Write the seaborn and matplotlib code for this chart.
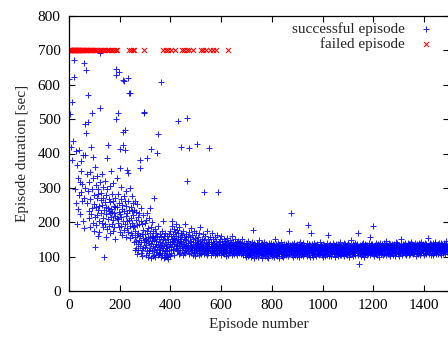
import pandas as pd
import seaborn as sns
import matplotlib
matplotlib.use('Agg')
import matplotlib.pyplot as plt

# episodes that hit the 700 s timeout
failed_episodes = [2, 3, 5, 6, 8, 9, 11, 12, 14, 15, 17, 19, 20, 22, 24, 25, 27, 29, 31, 33,
                   35, 36, 38, 40, 43, 45, 47, 50, 52, 55, 57, 60, 63, 66, 69, 72, 75, 78, 81,
                   85, 88, 92, 96, 100, 104, 108, 112, 117, 121, 126, 131, 137, 142, 148, 153,
                   159, 165, 171, 178, 184, 190, 237, 244, 251, 258, 294, 372, 381, 390, 404,
                   417, 446, 455, 466, 474, 488, 519, 530, 541, 556, 567, 578, 627]
timeout = 700

# durations of the successful episodes, in episode order
dur_early = [616, 515, 420, 549, 380, 436, 672, 623, 298, 255, 407, 368, 195, 240, 330, 410, 279, 318, 225, 287,
             379, 350, 262, 310, 204, 395, 272, 182,
             663, 395, 300, 485, 460, 644, 340, 255, 491, 290, 570, 232, 318, 212, 268, 345, 187, 418, 225, 296,
             518, 241, 389, 198, 330, 176, 280, 254, 129, 362, 215, 308, 245, 192, 336, 270, 221, 160, 298, 235,
             282, 205, 172, 248,
             693, 533, 318, 265, 228, 286, 198, 340, 250, 212, 302, 185, 272, 236, 98, 260, 320, 195, 244, 278,
             156, 225, 386, 298, 180, 242, 424, 210, 268, 232, 190, 305, 226, 258, 168, 214, 350, 240, 196, 282,
             230, 175, 262, 206, 315, 248, 185, 228, 270, 152, 218, 244, 499, 628, 646, 212, 330]

dur_mid = [245, 198, 282, 210, 517, 230, 637, 186, 256, 358, 414, 224, 172, 268, 215, 302, 190, 238, 164, 250,
           426, 613, 203, 463, 276, 178, 612, 232, 262, 195, 410, 468, 248, 158, 218, 290, 184, 352, 226, 205,
           342, 262, 172, 620, 208, 236, 576, 575, 188, 300, 154, 245, 212, 170, 276, 198, 232, 162, 255, 220,
           185, 236, 142, 190, 120, 175, 262, 158, 208, 126, 230, 146, 192, 108, 252, 164, 138, 216, 170, 118,
           195, 226, 148, 358, 160, 130, 381, 205, 142, 110, 242, 166, 120, 196, 102, 178, 155, 124, 220, 142,
           518, 520, 166, 128, 198, 148, 105, 208, 150, 134, 386, 175, 115, 228, 146, 98, 182, 156, 120, 212,
           140, 112, 168, 242, 125, 154, 96, 185, 413, 138, 160, 116, 200, 146, 102, 175, 130, 158, 118, 272,
           148, 106, 180, 128, 156, 100, 138, 170, 114, 145, 402, 122, 160, 104, 457, 135, 188, 110, 152, 128,
           108, 166, 120, 142, 112, 607, 132, 156, 98, 175, 118, 140, 104, 205, 126, 150, 112, 96, 160, 135,
           116, 148, 100, 170, 124, 105, 138, 160, 98, 130, 115, 152, 92, 142, 120, 108, 166, 128, 102, 136]

dur_late = [142, 175, 128, 160, 110, 188, 150, 136, 205, 122, 166, 145, 118, 180, 138, 155, 104, 172, 148, 130,
            196, 125, 160, 142, 115, 178, 135, 152, 494, 120, 168, 140, 108, 185, 132, 158, 126, 145, 112, 170,
            138, 420, 152, 118, 164, 130, 105, 176, 142, 124, 158, 136, 114, 195, 128, 150, 110, 166, 134, 120,
            148, 502, 126, 321, 160, 115, 140, 130, 172, 108, 415, 146, 122, 156, 134, 112, 182, 128, 144, 118,
            162, 125, 106, 150, 138, 120, 176, 132, 114, 155, 128, 142, 102, 168, 124, 136, 116, 148, 428, 130,
            110, 158, 122, 140, 134, 104, 170, 126, 118, 145, 132, 112, 186, 124, 138, 108, 152, 128, 119, 142,
            116, 165, 130, 289, 122, 108, 148, 135, 118, 160, 126, 112, 140, 132, 104, 175, 120, 138, 115, 150,
            128, 110, 144, 124, 136, 417, 118, 156, 130, 106, 142, 125, 114, 168, 132, 120, 138, 110, 150, 126,
            115, 140, 128, 105, 158, 122, 134, 112, 146, 126, 118, 164, 130, 108, 138, 124, 116, 288, 132, 120,
            142, 112, 128, 150, 118, 134, 106, 126, 160, 120, 138, 114, 130, 145, 110, 124, 136, 118, 152, 128,
            108, 135, 122, 146, 116, 130, 102, 140, 124, 112, 155, 128, 118, 134, 106, 142, 120, 130, 114, 138,
            125, 148, 110, 132, 120, 140, 115, 128, 104, 136, 122, 160, 118, 130, 112, 144, 126, 108, 134, 120,
            138, 116, 128, 150, 110, 124, 135, 118, 142, 106, 130, 122, 114, 146, 126, 118, 132, 110, 140, 124,
            115, 130, 120, 144, 108, 126, 136, 118, 128, 112, 150, 122, 134, 116, 125, 106, 140, 120, 130, 118]

dur_stable = [118, 105, 132, 124, 98, 141, 112, 127, 108, 136, 120, 101, 129, 115, 145, 110, 122, 133, 104, 126,
              114, 138, 109, 121, 131, 100, 125, 117, 143, 106, 128, 119, 135, 177, 112, 124, 97, 139, 116, 130,
              123, 108, 134, 113, 127, 102, 119, 140, 111, 126, 132, 99, 121, 137, 115, 129, 107, 124, 147, 118,
              131, 110, 122, 104, 136, 117, 128, 95, 125, 139, 113, 120, 106, 133, 118, 142, 109, 126, 114, 130,
              103, 127, 116, 138, 111, 124, 131, 100, 119, 135, 108, 123, 129, 96, 117, 140, 112, 126, 121, 107,
              134, 115, 125, 109, 141, 118, 102, 130, 122, 113, 137, 106, 127, 119, 133, 98, 124, 116, 152, 111,
              120, 129, 105, 136, 114, 123, 110, 131, 101, 126, 118, 139, 107, 122, 128, 112, 135, 97, 121, 117,
              130, 108, 124, 115, 142, 103, 127, 119, 134, 111, 125, 99, 132, 116, 121, 138, 106, 128, 113, 123,
              112, 136, 120, 104, 129, 117, 131, 109, 125, 140, 102, 122, 133, 114, 175, 118, 107, 127, 121, 135,
              124, 110, 131, 116, 226, 105, 128, 120, 137, 112, 123, 100, 134, 118, 126, 109, 141, 115, 129, 119,
              106, 133, 121, 127, 111, 138, 102, 125, 117, 130, 114, 122, 108, 136, 120, 98, 128, 113, 144, 118,
              127, 115, 104, 131, 122, 109, 135, 118, 126, 101, 139, 112, 124, 120, 107, 133, 116, 129, 110, 123,
              118, 132, 108, 125, 141, 114, 121, 103, 129, 117, 192, 124, 111, 136, 106, 128, 119, 134, 100, 122,
              113, 126, 119, 170, 110, 137, 123, 105, 131, 116, 128, 99, 124, 140, 112, 121, 133, 108, 127, 115,
              135, 102, 122, 118, 129, 111, 138, 107, 125, 120, 132, 114, 104, 127, 119, 143, 109, 123, 116, 130,
              121, 112, 134, 106, 126, 118, 131, 100, 124, 137, 113, 128, 110, 122, 135, 117, 103, 129, 120, 125,
              109, 130, 117, 124, 139, 105, 127, 114, 121, 163, 111, 133, 119, 102, 128, 116, 136, 108, 123, 131,
              126, 115, 103, 132, 120, 128, 110, 141, 118, 124, 107, 135, 113, 122, 130, 98, 127, 117, 134, 112,
              119, 136, 125, 108, 130, 116, 123, 101, 138, 114, 127, 120, 111, 133, 106, 129, 121, 142, 115, 124,
              131, 104, 122, 117, 127, 112, 135, 109, 125, 119, 140, 103, 128, 116, 132, 110, 123, 137, 107, 126,
              114, 129, 120, 133, 105, 124, 118, 139, 111, 127, 100, 134, 121, 115, 130, 108, 125, 119, 148, 113,
              128, 116, 107, 131, 122, 137, 113, 126, 102, 133, 119, 124, 110, 140, 117, 129, 105, 121, 135, 118,
              120, 132, 111, 125, 138, 106, 127, 168, 115, 123, 78, 130, 118, 135, 109, 126, 121, 103, 131, 116,
              124, 107, 136, 119, 128, 113, 141, 110, 125, 117, 132, 100, 127, 122, 114, 138, 108, 129, 120, 134,
              112, 127, 121, 104, 133, 118, 126, 109, 139, 115, 123, 130, 106, 128, 119, 157, 111, 125, 136, 117,
              130, 114, 124, 137, 108, 125, 189, 120, 113, 131, 102, 127, 118, 135, 111, 122, 140, 107, 126, 119,
              116, 133, 105, 128, 121, 138, 110, 124, 117, 130, 99, 134, 120, 126, 113, 141, 109, 123, 129, 115,
              125, 111, 136, 119, 127, 104, 131, 122, 115, 139, 108, 128, 121, 133, 112, 124, 145, 106, 130, 118,
              121, 135, 113, 126, 109, 132, 118, 140, 107, 125, 120, 129, 103, 136, 116, 123, 131, 111, 127, 137,
              110, 128, 122, 115, 134, 106, 127, 119, 138, 113, 124, 131, 101, 126, 120, 142, 112, 129, 117, 133,
              126, 117, 139, 108, 130, 121, 114, 135, 124, 103, 128, 119, 132, 110, 125, 137, 116, 122, 150, 113,
              119, 131, 106, 127, 123, 137, 112, 129, 116, 134, 109, 126, 120, 140, 105, 128, 118, 133, 124, 114,
              132, 110, 125, 141, 117, 128, 104, 136, 121, 113, 130, 124, 108, 138, 119, 126, 115, 143, 111, 129,
              123, 137, 114, 120, 131, 107, 127, 118, 135, 110, 124, 140, 116, 129, 102, 133, 121, 126, 112, 138,
              115, 128, 134, 109, 125, 121, 139, 113, 130, 118, 106, 136, 123, 127, 117, 144, 110, 131, 120, 126,
              133, 112, 122, 138, 116, 129, 105, 134, 124, 119, 141, 111, 127, 132, 108, 125, 137, 118, 130, 121,
              117, 131, 126, 154, 113, 135, 120, 109, 128, 140, 122, 116, 133, 104, 129, 124, 138, 112, 127, 119,
              128, 106, 134, 121, 139, 115, 125, 131, 110, 136, 118, 127, 143, 113, 122, 130, 107, 135, 120, 126,
              114, 137, 123, 129, 108, 132, 119, 141, 125, 112, 134, 121, 128, 116, 139, 105, 130, 124, 117, 136,
              131, 118, 126, 111, 140, 122, 135, 115, 128, 133, 109, 124, 137, 119, 129, 146, 113, 127, 121, 132]

success_durations = dur_early + dur_mid + dur_late + dur_stable
failed_set = set(failed_episodes)
success_episodes = [e for e in range(1, 3000) if e not in failed_set][:len(success_durations)]

success = pd.DataFrame({'episode': success_episodes, 'duration': success_durations})
failed = pd.DataFrame({'episode': failed_episodes, 'duration': [timeout] * len(failed_episodes)})

sns.set_style('ticks')
plt.rcParams['font.family'] = ['Liberation Serif', 'DejaVu Serif']

fig = plt.figure(figsize=(4.48, 3.39), dpi=100)
ax = fig.add_axes([69 / 448, 48 / 339, 380.4 / 448, 275 / 339])

sns.scatterplot(data=success, x='episode', y='duration', marker='+', color='#0000ff',
                s=16, linewidth=0.75, alpha=0.85, ax=ax, label='successful episode')
sns.scatterplot(data=failed, x='episode', y='duration', marker='x', color='#ff0000',
                s=13, linewidth=0.75, ax=ax, label='failed episode')

ax.set_xlim(0, 1500)
ax.set_ylim(0, 800)
ax.set_xticks(range(0, 1401, 200))
ax.set_yticks(range(0, 801, 100))
ax.tick_params(direction='in', top=True, right=True, length=4, width=0.8,
               labelsize=11, pad=6, colors='black')
for s in ax.spines.values():
    s.set_linewidth(0.9)
    s.set_color('black')

ax.set_xlabel('Episode number', fontsize=11)
ax.set_ylabel('Episode duration [sec]', fontsize=11, labelpad=6)

ax.legend(loc='upper right', bbox_to_anchor=(0.975, 1.005), frameon=False, markerfirst=False,
          fontsize=11, borderaxespad=0.1, handlelength=0.8, handletextpad=1.0, labelspacing=0.1)

fig.savefig('out.png', dpi=100)
